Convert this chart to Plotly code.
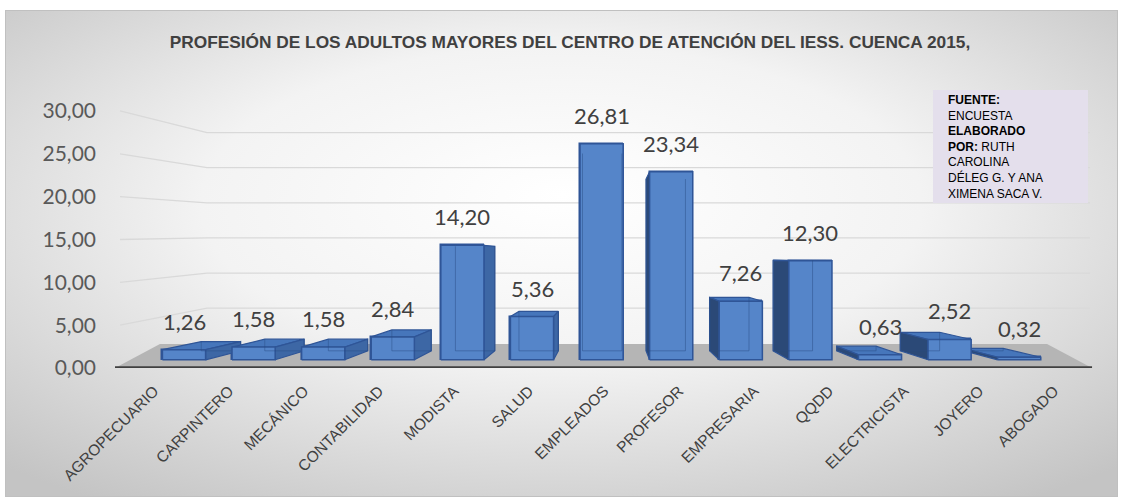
import base64
import plotly.graph_objects as go

# ---------------- data ----------------
categories = ["AGROPECUARIO", "CARPINTERO", "MECÁNICO", "CONTABILIDAD", "MODISTA", "SALUD",
              "EMPLEADOS", "PROFESOR", "EMPRESARIA", "QQDD", "ELECTRICISTA", "JOYERO", "ABOGADO"]
values = [1.26, 1.58, 1.58, 2.84, 14.20, 5.36, 26.81, 23.34, 7.26, 12.30, 0.63, 2.52, 0.32]
y_ticks = [0, 5, 10, 15, 20, 25, 30]
title_text = "PROFESIÓN DE LOS ADULTOS MAYORES DEL CENTRO DE ATENCIÓN DEL IESS. CUENCA 2015,"
note_lines = ["<b>FUENTE:</b>", "ENCUESTA", "<b>ELABORADO</b>", "<b>POR:</b> RUTH", "CAROLINA",
              "DÉLEG G. Y ANA", "XIMENA SACA V."]

# ---------------- geometry / style ----------------
W_FIG, H_FIG = 1127, 500
L, R, T, B = 112, 27, 100, 132
PW, PH = W_FIG - L - R, H_FIG - T - B

# front (axis) plane: tick labels, floor, wall grid
X_FRONT = [-0.56, 12.613]
Y_FRONT = [0, 31.28]
FLOOR_X = [-0.52, 12.507]
GRID_X = [-0.453, 12.48]
WALL_VP, WALL_T = (5.99, 16.0), 0.18
FLOOR_VP, FLOOR_T = (5.99, 30.4), 0.092

# bar plane (bars sit a little behind the axis plane)
X_BAR = [-1.0345, 13.161]
Y_BAR = [-1.017, 32.233]
BAR_VP, BAR_T = (6.1, 12.8), 0.087
HALF_W = 0.31

FRONT = "#5585c9"
EDGE = "#2f5597"
SIDE_R = "#3d67a5"
SIDE_L = "#2b4977"
TOP = "#4676bb"
GHOST = "rgba(40,75,130,0.45)"


def proj(x, y, t, vp):
    return x + t * (vp[0] - x), y + t * (vp[1] - y)


def pxx(px):
    return (px - L) / PW


def pxy(py):
    return (H_FIG - B - py) / PH


def poly(xs, ys, fill, line_col, width, axes, clip=True):
    xa, ya = axes
    return go.Scatter(x=xs + [xs[0]], y=ys + [ys[0]], mode="lines", fill="toself",
                      fillcolor=fill, line=dict(color=line_col, width=width),
                      hoverinfo="skip", showlegend=False, xaxis=xa, yaxis=ya, cliponaxis=clip)


fig = go.Figure()

# back wall gridlines (perspective)
for v in y_ticks[1:]:
    bx, by = proj(GRID_X[0], v, WALL_T, WALL_VP)
    fig.add_trace(go.Scatter(x=[GRID_X[0], bx, GRID_X[1]], y=[v, by, by], mode="lines",
                             line=dict(color="#d9d9d9", width=1.3), hoverinfo="skip",
                             showlegend=False))

# floor
fl0 = proj(FLOOR_X[0], 0, FLOOR_T, FLOOR_VP)
fl1 = proj(FLOOR_X[1], 0, FLOOR_T, FLOOR_VP)
fig.add_trace(poly([FLOOR_X[0], fl0[0], fl1[0], FLOOR_X[1]], [0, fl0[1], fl1[1], 0],
                   "#b5b5b5", "rgba(0,0,0,0)", 0, ("x", "y"), clip=False))

# axis line
fig.add_trace(go.Scatter(x=FLOOR_X, y=[0, 0], mode="lines", line=dict(color="#404040", width=3.5),
                         hoverinfo="skip", showlegend=False, cliponaxis=False))

# the bars (bar plane)
fig.add_trace(go.Bar(x=list(range(len(categories))), y=values, width=2 * HALF_W,
                     marker=dict(color=FRONT, line=dict(color=EDGE, width=1.5)),
                     hoverinfo="skip", showlegend=False, xaxis="x2", yaxis="y2"))

# pseudo-3D faces, painted from the outside towards the vanishing point
order = [i for i in range(len(values)) if i < BAR_VP[0]] + \
        [i for i in reversed(range(len(values))) if i >= BAR_VP[0]]
for i in order:
    v = values[i]
    xl, xr = i - HALF_W, i + HALF_W
    bl0, br0 = proj(xl, 0, BAR_T, BAR_VP), proj(xr, 0, BAR_T, BAR_VP)
    bl1, br1 = proj(xl, v, BAR_T, BAR_VP), proj(xr, v, BAR_T, BAR_VP)
    if bl1[1] > v:  # top face visible
        fig.add_trace(poly([xl, xr, br1[0], bl1[0]], [v, v, br1[1], bl1[1]], TOP, EDGE, 1.2,
                           ("x2", "y2")))
    if i < BAR_VP[0]:
        fig.add_trace(poly([xr, xr, br1[0], br0[0]], [0, v, br1[1], br0[1]], SIDE_R, EDGE, 1.2,
                           ("x2", "y2")))
    else:
        fig.add_trace(poly([xl, xl, bl1[0], bl0[0]], [0, v, bl1[1], bl0[1]], SIDE_L, EDGE, 1.2,
                           ("x2", "y2")))
    # front face repainted so nearer bars cover the sides of farther ones
    fig.add_trace(poly([xl, xr, xr, xl], [0, 0, v, v], FRONT, EDGE, 1.5, ("x2", "y2")))
    # hidden back edges seen through the translucent front
    fig.add_trace(go.Scatter(x=[bl1[0], bl0[0], br0[0], br1[0]], y=[bl1[1], bl0[1], br0[1], br1[1]],
                             mode="lines", line=dict(color=GHOST, width=1), hoverinfo="skip",
                             showlegend=False, xaxis="x2", yaxis="y2"))

# data labels
for i, v in enumerate(values):
    fig.add_annotation(x=i, y=v, xref="x2", yref="y2", text=f"{v:.2f}".replace(".", ","),
                       showarrow=False, yanchor="bottom", yshift=13,
                       font=dict(family="Lato, Open Sans, sans-serif", size=22, color="#404040"))

# background image (radial gradient frame)
svg = ('<svg xmlns="http://www.w3.org/2000/svg" width="1113" height="487" viewBox="0 0 1113 487" '
       'preserveAspectRatio="none"><defs><radialGradient id="g" cx="50%" cy="42%" r="72%" fx="50%" fy="38%">'
       '<stop offset="0" stop-color="#ffffff"/><stop offset="0.45" stop-color="#f3f3f3"/>'
       '<stop offset="1" stop-color="#c4c4c4"/></radialGradient></defs>'
       '<rect x="0" y="0" width="1113" height="487" fill="url(#g)" stroke="#c0c0c0" stroke-width="2"/></svg>')
src = "data:image/svg+xml;base64," + base64.b64encode(svg.encode("utf-8")).decode("ascii")
fig.add_layout_image(dict(source=src, xref="paper", yref="paper", x=pxx(5), y=pxy(10),
                          sizex=(1118 - 5) / PW, sizey=(497 - 10) / PH, xanchor="left",
                          yanchor="top", sizing="stretch", layer="below"))

# note box
fig.add_shape(type="rect", xref="paper", yref="paper", x0=pxx(933), x1=pxx(1088),
              y0=pxy(203), y1=pxy(90), fillcolor="#e4dfec", line=dict(width=0), layer="above")
fig.add_annotation(xref="paper", yref="paper", x=pxx(946), y=pxy(91), xanchor="left",
                   yanchor="top", align="left", showarrow=False, text="<br>".join(note_lines),
                   font=dict(family="Liberation Sans, Arial, sans-serif", size=12, color="#000000"))

fig.update_layout(
    width=W_FIG, height=H_FIG,
    margin=dict(l=L, r=R, t=T, b=B),
    paper_bgcolor="white", plot_bgcolor="rgba(0,0,0,0)",
    separators=",.",
    bargap=0,
    title=dict(text=f"<b>{title_text}</b>", x=pxx(570), xref="paper", xanchor="center",
               y=1 - 42 / H_FIG, yanchor="middle",
               font=dict(family="Liberation Sans, Arial, sans-serif", size=17.3, color="#404040")),
    xaxis=dict(range=X_FRONT, tickvals=list(range(len(categories))), ticktext=categories,
               tickangle=-45, showgrid=False, zeroline=False, showline=False, ticks="",
               ticklabelstandoff=10,
               tickfont=dict(family="Liberation Sans, Arial, sans-serif", size=15.5, color="#404040")),
    yaxis=dict(range=Y_FRONT, tickvals=y_ticks, tickformat=".2f", showgrid=False, zeroline=False,
               showline=False, ticks="", ticklabelstandoff=15,
               tickfont=dict(family="Lato, Open Sans, sans-serif", size=21, color="#595959")),
    xaxis2=dict(range=X_BAR, overlaying="x", visible=False),
    yaxis2=dict(range=Y_BAR, overlaying="y", visible=False),
)

fig.write_html("out.html", config={"displayModeBar": False},
               post_script="document.body.style.margin='0';")
